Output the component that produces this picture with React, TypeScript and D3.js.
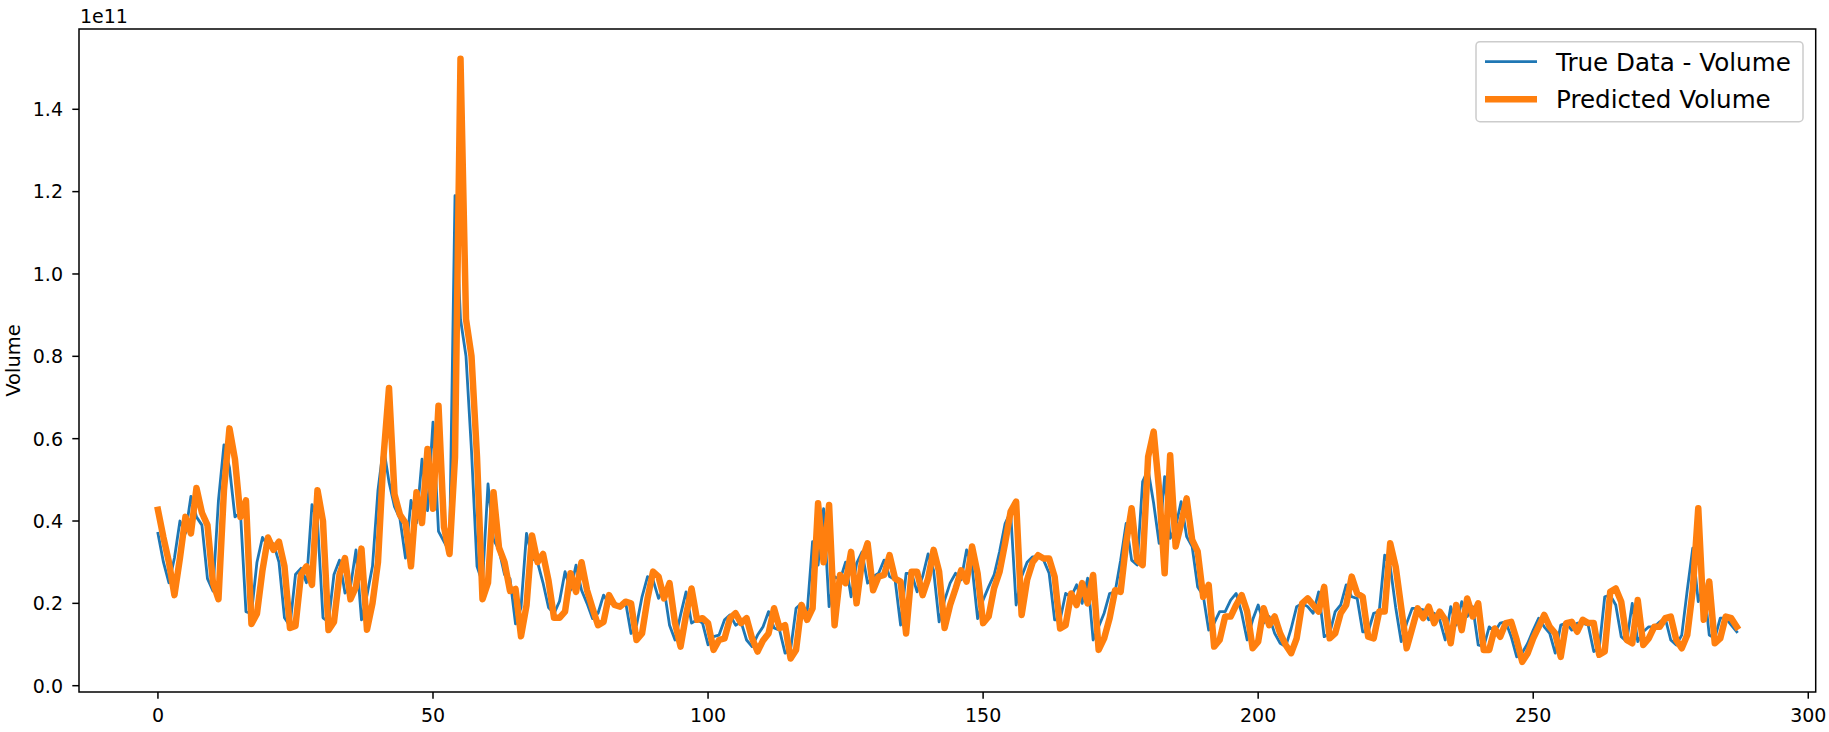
import React from "react";
import * as d3 from "d3";

// Values in units of 1e11
const trueVolume: number[] = [
  0.37, 0.30, 0.25, 0.31, 0.40, 0.37, 0.46, 0.41, 0.39, 0.26,
  0.23, 0.45, 0.585, 0.53, 0.41, 0.42, 0.18, 0.175, 0.30, 0.36,
  0.34, 0.345, 0.30, 0.165, 0.145, 0.27, 0.285, 0.25, 0.44, 0.40,
  0.165, 0.155, 0.27, 0.305, 0.225, 0.24, 0.33, 0.16, 0.22, 0.29,
  0.475, 0.58, 0.495, 0.435, 0.405, 0.31, 0.45, 0.395, 0.55, 0.425,
  0.64, 0.375, 0.35, 0.325, 1.19, 0.89, 0.80, 0.57, 0.29, 0.25,
  0.49, 0.355, 0.33, 0.27, 0.26, 0.15, 0.19, 0.37, 0.31, 0.30,
  0.25, 0.19, 0.175, 0.205, 0.277, 0.232, 0.293, 0.232, 0.20, 0.163,
  0.176, 0.22, 0.20, 0.20, 0.196, 0.204, 0.127, 0.147, 0.216, 0.265,
  0.257, 0.212, 0.236, 0.147, 0.111, 0.172, 0.228, 0.152, 0.16, 0.152,
  0.099, 0.119, 0.123, 0.16, 0.172, 0.147, 0.155, 0.111, 0.095, 0.123,
  0.143, 0.18, 0.14, 0.135, 0.079, 0.087, 0.188, 0.20, 0.176, 0.35,
  0.293, 0.43, 0.192, 0.265, 0.257, 0.30, 0.216, 0.297, 0.325, 0.249,
  0.265, 0.273, 0.305, 0.265, 0.257, 0.147, 0.273, 0.273, 0.228, 0.265,
  0.32, 0.28, 0.155, 0.208, 0.249, 0.273, 0.257, 0.33, 0.289, 0.163,
  0.208, 0.24, 0.269, 0.326, 0.394, 0.423, 0.196, 0.265, 0.30, 0.313,
  0.313, 0.305, 0.273, 0.16, 0.16, 0.224, 0.216, 0.245, 0.20, 0.261,
  0.111, 0.143, 0.176, 0.224, 0.228, 0.305, 0.394, 0.305, 0.293, 0.496,
  0.524, 0.443, 0.346, 0.508, 0.358, 0.386, 0.447, 0.362, 0.338, 0.24,
  0.22, 0.135, 0.152, 0.18, 0.18, 0.208, 0.224, 0.176, 0.111, 0.16,
  0.196, 0.152, 0.168, 0.127, 0.103, 0.095, 0.139, 0.192, 0.20, 0.192,
  0.176, 0.228, 0.119, 0.127, 0.18, 0.196, 0.245, 0.216, 0.212, 0.131,
  0.131, 0.176, 0.18, 0.317, 0.29, 0.19, 0.107, 0.152, 0.188, 0.188,
  0.184, 0.16, 0.176, 0.16, 0.111, 0.192, 0.147, 0.204, 0.168, 0.192,
  0.099, 0.095, 0.143, 0.131, 0.152, 0.155, 0.119, 0.07, 0.08, 0.103,
  0.135, 0.164, 0.143, 0.127, 0.079, 0.147, 0.152, 0.135, 0.152, 0.152,
  0.147, 0.083, 0.091, 0.216, 0.22, 0.196, 0.119, 0.107, 0.20, 0.107,
  0.131, 0.143, 0.143, 0.155, 0.164, 0.111, 0.099, 0.123, 0.232, 0.334,
  0.204, 0.25, 0.123, 0.115, 0.164, 0.164, 0.147, 0.131,
];

const predictedVolume: number[] = [
  0.427, 0.36, 0.30, 0.22, 0.31, 0.41, 0.37, 0.48, 0.42, 0.39,
  0.25, 0.21, 0.475, 0.625, 0.55, 0.41, 0.45, 0.15, 0.175, 0.28,
  0.36, 0.33, 0.35, 0.29, 0.14, 0.145, 0.27, 0.29, 0.245, 0.475,
  0.40, 0.135, 0.155, 0.27, 0.31, 0.21, 0.24, 0.333, 0.136, 0.20,
  0.30, 0.555, 0.723, 0.465, 0.415, 0.395, 0.29, 0.47, 0.395, 0.575,
  0.43, 0.68, 0.385, 0.32, 0.555, 1.523, 0.89, 0.80, 0.555, 0.21,
  0.25, 0.47, 0.335, 0.30, 0.23, 0.235, 0.12, 0.195, 0.365, 0.30,
  0.32, 0.255, 0.165, 0.165, 0.18, 0.273, 0.228, 0.30, 0.232, 0.188,
  0.147, 0.155, 0.22, 0.196, 0.192, 0.204, 0.20, 0.111, 0.127, 0.212,
  0.277, 0.265, 0.212, 0.249, 0.152, 0.095, 0.172, 0.236, 0.16, 0.164,
  0.152, 0.087, 0.111, 0.115, 0.164, 0.176, 0.152, 0.164, 0.115, 0.083,
  0.11, 0.127, 0.188, 0.14, 0.147, 0.066, 0.087, 0.196, 0.16, 0.188,
  0.443, 0.30, 0.439, 0.147, 0.269, 0.249, 0.325, 0.20, 0.305, 0.346,
  0.232, 0.265, 0.269, 0.317, 0.26, 0.253, 0.127, 0.277, 0.277, 0.22,
  0.26, 0.33, 0.277, 0.14, 0.196, 0.236, 0.28, 0.253, 0.338, 0.273,
  0.152, 0.168, 0.237, 0.277, 0.346, 0.423, 0.447, 0.172, 0.257, 0.30,
  0.317, 0.309, 0.309, 0.265, 0.139, 0.147, 0.224, 0.196, 0.249, 0.20,
  0.269, 0.087, 0.115, 0.164, 0.232, 0.228, 0.346, 0.431, 0.305, 0.293,
  0.556, 0.617, 0.475, 0.273, 0.56, 0.338, 0.394, 0.455, 0.354, 0.326,
  0.216, 0.245, 0.095, 0.111, 0.168, 0.168, 0.196, 0.22, 0.18, 0.091,
  0.107, 0.188, 0.147, 0.168, 0.127, 0.099, 0.079, 0.115, 0.20, 0.212,
  0.196, 0.18, 0.24, 0.115, 0.127, 0.176, 0.196, 0.265, 0.224, 0.216,
  0.119, 0.115, 0.18, 0.18, 0.346, 0.289, 0.19, 0.091, 0.139, 0.188,
  0.164, 0.192, 0.152, 0.18, 0.16, 0.103, 0.196, 0.135, 0.212, 0.168,
  0.20, 0.087, 0.087, 0.139, 0.119, 0.152, 0.155, 0.111, 0.058, 0.079,
  0.115, 0.143, 0.172, 0.143, 0.127, 0.07, 0.152, 0.155, 0.131, 0.16,
  0.152, 0.152, 0.075, 0.083, 0.228, 0.236, 0.204, 0.111, 0.103, 0.208,
  0.099, 0.115, 0.143, 0.143, 0.164, 0.168, 0.111, 0.091, 0.123, 0.232,
  0.431, 0.16, 0.253, 0.103, 0.115, 0.168, 0.164, 0.143,
];

const xTicks: number[] = [0, 50, 100, 150, 200, 250, 300];
const yTicks: number[] = [0.0, 0.2, 0.4, 0.6, 0.8, 1.0, 1.2, 1.4];
const seriesNames: string[] = ["True Data - Volume", "Predicted Volume"];
const offsetLabel = "1e11";
const yLabel = "Volume";

const W = 1829;
const H = 732;
const L = 79;
const R = 1815.7;
const T = 29;
const B = 692;
const FONT = "'DejaVu Sans', sans-serif";

export default function App() {
  const n = trueVolume.length;
  const xPad = (n - 1) * 0.05;
  const x = d3.scaleLinear().domain([-xPad, n - 1 + xPad]).range([L, R]);
  const y = d3.scaleLinear().domain([-0.0153, 1.595]).range([B, T]);

  const line = d3
    .line<number>()
    .x((_, i) => x(i))
    .y((d) => y(d));

  return (
    <svg
      width={W}
      height={H}
      style={{ position: "absolute", left: 0, top: 0, background: "#fff" }}
      fontFamily={FONT}
    >
      <defs>
        <clipPath id="plotclip">
          <rect x={L} y={T} width={R - L} height={B - T} />
        </clipPath>
      </defs>
      <rect x={0} y={0} width={W} height={H} fill="#fff" />
      <g clipPath="url(#plotclip)" fill="none" strokeLinejoin="round" strokeLinecap="square">
        <path d={line(trueVolume) || ""} stroke="#1f77b4" strokeWidth={2.8} />
        <path d={line(predictedVolume) || ""} stroke="#ff7f0e" strokeWidth={6.5} />
      </g>
      {/* spines */}
      <rect x={L} y={T} width={R - L} height={B - T} fill="none" stroke="#000" strokeWidth={1.5} />
      {/* x ticks */}
      {xTicks.map((t) => (
        <g key={"x" + t}>
          <line x1={x(t)} x2={x(t)} y1={B} y2={B + 6.7} stroke="#000" strokeWidth={1.5} />
          <text x={x(t)} y={721.7} textAnchor="middle" fontSize={19} fill="#000">
            {String(t)}
          </text>
        </g>
      ))}
      {/* y ticks */}
      {yTicks.map((t) => (
        <g key={"y" + t}>
          <line x1={L - 6.7} x2={L} y1={y(t)} y2={y(t)} stroke="#000" strokeWidth={1.5} />
          <text x={63} y={y(t)} dy="0.36em" textAnchor="end" fontSize={19} fill="#000">
            {t.toFixed(1)}
          </text>
        </g>
      ))}
      <text x={80} y={22.7} fontSize={19} fill="#000">
        {offsetLabel}
      </text>
      <text
        transform={`translate(20, ${(T + B) / 2}) rotate(-90)`}
        textAnchor="middle"
        fontSize={19.5}
        fill="#000"
      >
        {yLabel}
      </text>
      {/* legend */}
      <g>
        <rect x={1476} y={41.7} width={327} height={80} rx={4} fill="#fff" fillOpacity={0.8} stroke="#cccccc" strokeWidth={1.5} />
        <line x1={1485} x2={1537} y1={61.7} y2={61.7} stroke="#1f77b4" strokeWidth={2.8} />
        <text x={1556} y={61.7} dy="0.36em" fontSize={24.6} fill="#000">
          {seriesNames[0]}
        </text>
        <line x1={1485} x2={1537} y1={99.3} y2={99.3} stroke="#ff7f0e" strokeWidth={6.5} />
        <text x={1556} y={99.3} dy="0.36em" fontSize={24.6} fill="#000">
          {seriesNames[1]}
        </text>
      </g>
    </svg>
  );
}
